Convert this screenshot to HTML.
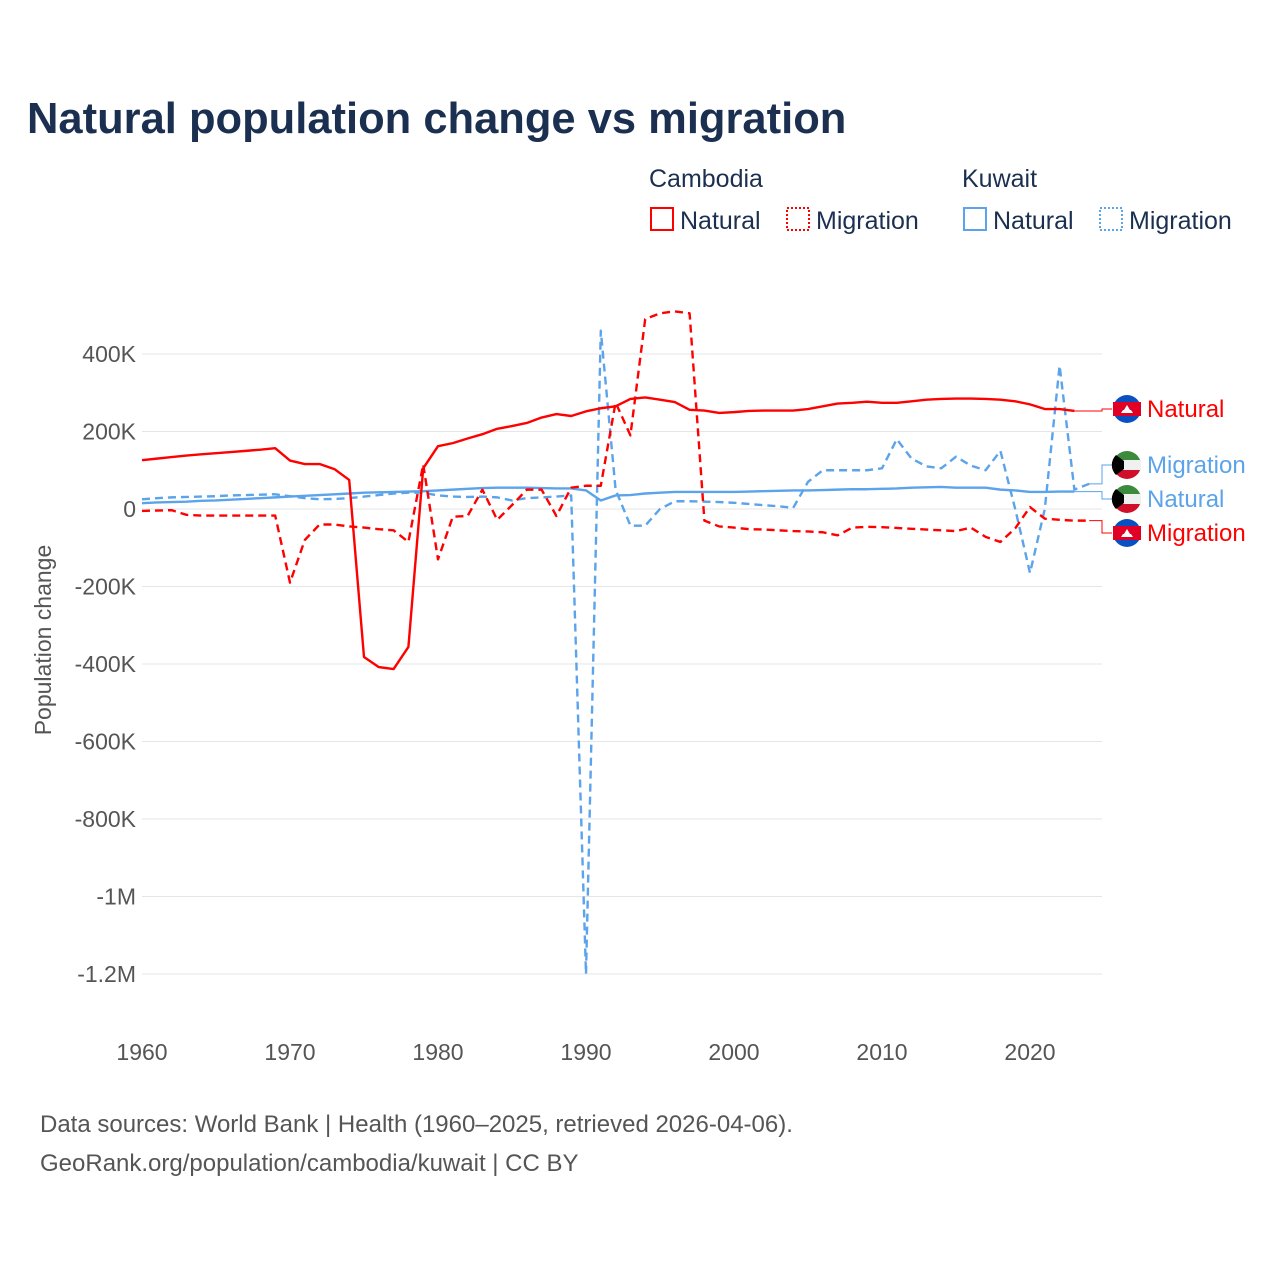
<!DOCTYPE html>
<html><head><meta charset="utf-8">
<style>
body{margin:0;background:#fff;font-family:"Liberation Sans",sans-serif;}
#c{position:relative;width:1280px;height:1280px;}
</style></head>
<body><div id="c">
<svg id="s" width="1280" height="1280" xmlns="http://www.w3.org/2000/svg">
<text x="27" y="133" font-size="43.5" font-weight="bold" fill="#1b3050">Natural population change vs migration</text>
<g font-size="25" fill="#1b3050">
<text x="649" y="187">Cambodia</text>
<text x="962" y="187">Kuwait</text>
<g><rect x="651" y="208" width="22" height="22" fill="none" stroke="#f00" stroke-width="2"/><text x="680" y="229">Natural</text></g>
<g><rect x="787" y="208" width="22" height="22" fill="none" stroke="#f00" stroke-width="2" stroke-dasharray="2,2"/><text x="816" y="229">Migration</text></g>
<g><rect x="964" y="208" width="22" height="22" fill="none" stroke="#5ba3ea" stroke-width="2"/><text x="993" y="229">Natural</text></g>
<g><rect x="1100" y="208" width="22" height="22" fill="none" stroke="#5ba3ea" stroke-width="2" stroke-dasharray="2,2"/><text x="1129" y="229">Migration</text></g>
</g>
<g id="grid"></g><g id="lines"></g><g id="labels"></g>
<text transform="translate(51,640) rotate(-90)" text-anchor="middle" font-size="23" fill="#555">Population change</text>
<g font-size="24" fill="#555">
<text x="40" y="1132">Data sources: World Bank | Health (1960–2025, retrieved 2026-04-06).</text>
<text x="40" y="1171">GeoRank.org/population/cambodia/kuwait | CC BY</text>
</g>
</svg></div>
<script>
const years=[];for(let y=1960;y<=2024;y++)years.push(y);
const yTicks=[400,200,0,-200,-400,-600,-800,-1000,-1200];
const yTickLabels=["400K","200K","0","-200K","-400K","-600K","-800K","-1M","-1.2M"];
const xTicks=[1960,1970,1980,1990,2000,2010,2020];
const cambodiaNatural=[126,130,134,138,141,144,147,150,153,157,125,116,116,103,75,-382,-408,-413,-356,105,162,170,182,193,207,214,222,236,245,240,252,260,265,284,288,282,276,256,254,248,250,253,254,254,254,258,265,272,274,277,274,274,278,282,284,285,285,284,282,278,270,258,258,253];
const cambodiaMigration=[-5,-4,-3,-15,-17,-17,-17,-17,-17,-17,-190,-80,-40,-40,-45,-48,-52,-55,-85,115,-130,-20,-18,50,-28,10,50,50,-18,55,60,60,275,190,490,505,510,505,-30,-45,-48,-52,-53,-55,-57,-58,-60,-68,-48,-46,-47,-49,-51,-53,-55,-57,-48,-72,-85,-50,5,-25,-28,-30,-30];
const kuwaitNatural=[15,17,18,19,21,22,24,26,28,30,32,34,36,38,40,42,43,44,45,46,48,50,52,54,55,55,55,54,53,53,48,22,35,36,40,42,44,44,44,44,44,45,46,47,48,48,49,50,51,51,52,53,55,56,57,55,55,55,50,48,44,44,45,45];
const kuwaitMigration=[25,28,30,31,32,33,35,36,37,38,33,28,25,26,28,32,36,40,42,42,35,32,31,32,30,22,28,30,32,35,-1200,460,50,-43,-43,0,20,20,19,18,16,13,10,7,3,70,100,100,100,100,105,180,130,110,105,135,112,100,150,0,-165,0,370,50,65];
const NS='http://www.w3.org/2000/svg';
const xs=y=>142+(y-1960)*14.8;
const ys=v=>509-v*(77.5/200);
function mk(t,a,p){const e=document.createElementNS(NS,t);for(const k in a)e.setAttribute(k,a[k]);p.appendChild(e);return e;}
const grid=document.getElementById('grid');
yTicks.forEach((v,i)=>{
 const l=mk('line',{x1:142,x2:1102,y1:ys(v),y2:ys(v),stroke:'#e6e6e6','stroke-width':1},grid);
 
 
 const t=mk('text',{x:136,y:ys(v)+8,'text-anchor':'end','font-size':23,fill:'#555'},grid);t.textContent=yTickLabels[i];
 
 
});
xTicks.forEach(v=>{
 const t=mk('text',{x:xs(v),y:1060,'text-anchor':'middle','font-size':23,fill:'#555'},grid);t.textContent=v;
 
 
});
const lines=document.getElementById('lines');
function series(vals,col,dash,name){
 const p=mk('polyline',{points:vals.map((v,i)=>xs(years[i])+','+ys(v)).join(' '),fill:'none',stroke:col,'stroke-width':2.4,'stroke-dasharray':dash,'stroke-linejoin':'round'},lines);
 
 
}
series(kuwaitMigration,'#5ba3ea','8,5','line-kuwait-migration');
series(kuwaitNatural,'#5ba3ea','','line-kuwait-natural');
series(cambodiaMigration,'#f00','8,5','line-cambodia-migration');
series(cambodiaNatural,'#f00','','line-cambodia-natural');
const lab=document.getElementById('labels');
function endLabel(vals,ly,col,text,flag,name){
 const last=vals[vals.length-1];
 const ex=xs(years[vals.length-1]);
 mk('polyline',{points:`${ex},${ys(last)} 1102,${ys(last)} 1102,${ly} 1112,${ly}`,fill:'none',stroke:col,'stroke-width':1},lab);
 const g=mk('g',{},lab);
 
 
 if(flag==='kh'){mk('circle',{cx:1127,cy:ly,r:14,fill:'#0a50c0'},g);mk('rect',{x:1113,y:ly-7,width:28,height:14,fill:'#e00025'},g);mk('path',{d:`M1121 ${ly+4}h12l-2-3h-8z M1124 ${ly+1}l3-5 3 5z`,fill:'#fff'},g);}
 else{mk('circle',{cx:1127,cy:ly,r:14,fill:'#eee'},g);mk('path',{d:`M1113 ${ly}a14 14 0 0 1 28 -0 z`,fill:'#3c8a3c'},g);mk('path',{d:`M1113 ${ly}a14 14 0 0 0 28 0z`,fill:'#d0102a'},g);mk('rect',{x:1115,y:ly-5,width:26,height:10,fill:'#f0f0f0'},g);mk('path',{d:`M1116 ${ly-10}l8 6v8l-8 6a14 14 0 0 1 0-20z`,fill:'#000'},g);}
 const t=mk('text',{x:1147,y:ly+8,'font-size':24,fill:col},g);t.textContent=text;
}
endLabel(cambodiaNatural,409,'#f00','Natural','kh','end-label-cambodia-natural');
endLabel(kuwaitMigration,465,'#5ba3ea','Migration','kw','end-label-kuwait-migration');
endLabel(kuwaitNatural,499,'#5ba3ea','Natural','kw','end-label-kuwait-natural');
endLabel(cambodiaMigration,533,'#f00','Migration','kh','end-label-cambodia-migration');
</script>
</body></html>
